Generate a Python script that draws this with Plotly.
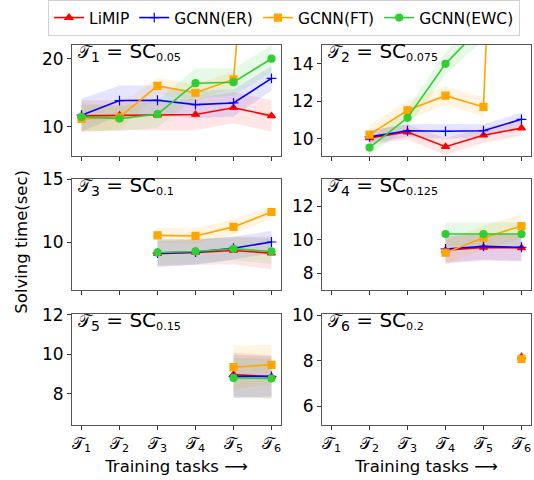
import plotly.graph_objects as go

# ---------------- data ----------------
TASK_X = [1, 2, 3, 4, 5, 6]
TICK_LABELS = ["𝒯<sub>1</sub>", "𝒯<sub>2</sub>", "𝒯<sub>3</sub>",
               "𝒯<sub>4</sub>", "𝒯<sub>5</sub>", "𝒯<sub>6</sub>"]
METHODS = ["LiMIP", "GCNN(ER)", "GCNN(FT)", "GCNN(EWC)"]
PANEL_TASKS = ["1", "2", "3", "4", "5", "6"]
PANEL_SC = ["0.05", "0.075", "0.1", "0.125", "0.15", "0.2"]

# panel 1 (T1..T6)
p1_x = [1, 2, 3, 4, 5, 6]
p1_limip = [11.6, 11.7, 11.7, 11.8, 12.8, 11.6]
p1_limip_sd = [2.3, 2.2, 2.2, 2.3, 2.3, 2.3]
p1_er = [11.7, 13.85, 13.9, 13.25, 13.5, 17.1]
p1_er_sd = [2.4, 2.2, 2.2, 2.0, 2.0, 1.8]
p1_ft = [11.15, 11.4, 16.0, 15.0, 16.95, 80.0]
p1_ft_sd = [2.0, 1.8, 1.2, 1.2, 1.2, None]
p1_ewc = [11.45, 11.2, 11.85, 16.4, 16.55, 20.0]
p1_ewc_sd = [2.0, 1.8, 2.0, 2.2, 2.0, 2.0]

# panel 2 (T2..T6)
p2_x = [2, 3, 4, 5, 6]
p2_limip = [10.05, 10.36, 9.58, 10.19, 10.57]
p2_limip_sd = [0.4, 0.4, 0.45, 0.4, 0.4]
p2_er = [10.1, 10.43, 10.4, 10.43, 11.04]
p2_er_sd = [0.35, 0.35, 0.4, 0.35, 0.35]
p2_ft = [10.22, 11.52, 12.3, 11.7, 60.0]
p2_ft_sd = [0.5, 0.5, 0.5, 0.5, None]
p2_ewc = [9.53, 11.12, 14.0, 16.1, 17.5]
p2_ewc_sd = [0.4, 0.5, 0.6, 0.8, 0.8]

# panel 3 (T3..T6)
p3_x = [3, 4, 5, 6]
p3_limip = [9.1, 9.2, 9.36, 9.15]
p3_limip_sd = [1.0, 1.0, 1.1, 1.3]
p3_er = [9.15, 9.23, 9.54, 10.03]
p3_er_sd = [1.1, 1.0, 0.9, 0.9]
p3_ft = [10.56, 10.51, 11.23, 12.41]
p3_ft_sd = [0.6, 0.6, 0.6, 0.5]
p3_ewc = [9.2, 9.28, 9.49, 9.28]
p3_ewc_sd = [1.0, 1.0, 0.9, 1.0]

# panel 4 (T4..T6)
p4_x = [4, 5, 6]
p4_limip = [9.38, 9.55, 9.52]
p4_limip_sd = [0.8, 0.8, 0.8]
p4_er = [9.46, 9.61, 9.56]
p4_er_sd = [0.8, 0.8, 0.8]
p4_ft = [9.24, 10.13, 10.82]
p4_ft_sd = [0.7, 0.7, 0.7]
p4_ewc = [10.35, 10.35, 10.35]
p4_ewc_sd = [0.7, 0.7, 0.7]

# panel 5 (T5..T6)
p5_x = [5, 6]
p5_limip = [8.98, 8.87]
p5_limip_sd = [1.1, 1.1]
p5_er = [8.89, 8.89]
p5_er_sd = [1.1, 1.0]
p5_ft = [9.35, 9.47]
p5_ft_sd = [1.1, 1.0]
p5_ewc = [8.81, 8.78]
p5_ewc_sd = [1.0, 1.0]

# panel 6 (T6)
p6_x = [6]
p6_limip = [8.17]
p6_limip_sd = [0.0]
p6_ft = [8.08]
p6_ft_sd = [0.0]

Y_RANGES = [[5.7, 22.0], [9.08, 15.0], [6.2, 15.0], [7.0, 13.6], [6.46, 12.05], [5.19, 10.07]]
Y_TICKS = [[10, 20], [10, 12, 14], [10, 15], [8, 10, 12], [8, 10, 12], [6, 8, 10]]

PANELS = [
    [(p1_x, p1_limip, p1_limip_sd), (p1_x, p1_er, p1_er_sd), (p1_x, p1_ft, p1_ft_sd), (p1_x, p1_ewc, p1_ewc_sd)],
    [(p2_x, p2_limip, p2_limip_sd), (p2_x, p2_er, p2_er_sd), (p2_x, p2_ft, p2_ft_sd), (p2_x, p2_ewc, p2_ewc_sd)],
    [(p3_x, p3_limip, p3_limip_sd), (p3_x, p3_er, p3_er_sd), (p3_x, p3_ft, p3_ft_sd), (p3_x, p3_ewc, p3_ewc_sd)],
    [(p4_x, p4_limip, p4_limip_sd), (p4_x, p4_er, p4_er_sd), (p4_x, p4_ft, p4_ft_sd), (p4_x, p4_ewc, p4_ewc_sd)],
    [(p5_x, p5_limip, p5_limip_sd), (p5_x, p5_er, p5_er_sd), (p5_x, p5_ft, p5_ft_sd), (p5_x, p5_ewc, p5_ewc_sd)],
    [(p6_x, p6_limip, p6_limip_sd), None, (p6_x, p6_ft, p6_ft_sd), None],
]

# ---------------- style ----------------
COLORS = ["#ff0000", "#0000ff", "#ffa500", "#32cd32"]
BANDS = ["rgba(255,0,0,0.10)", "rgba(0,0,255,0.10)", "rgba(255,165,0,0.12)", "rgba(50,205,50,0.12)"]
SYMBOLS = ["triangle-up", "cross-thin", "square", "circle"]
MSIZES = [7, 7, 7, 7]
FONT = "DejaVu Sans"
W, H = 534, 480

XD = [[72 / W, 281 / W], [322 / W, 531 / W]]
YD = [[1 - 147 / H, 1 - 33 / H], [1 - 285 / H, 1 - 171 / H], [1 - 423 / H, 1 - 309 / H]]

fig = go.Figure()

for pi, panel in enumerate(PANELS):
    ax = "" if pi == 0 else str(pi + 1)
    xref, yref = "x" + ax, "y" + ax
    for mi, item in enumerate(panel):
        if item is None:
            continue
        xs, ys, sds = item
        pts = [(x, y, s) for x, y, s in zip(xs, ys, sds) if s is not None]
        if len(pts) < 2:
            continue
        bx = [p[0] for p in pts] + [p[0] for p in pts[::-1]]
        by = [p[1] + p[2] for p in pts] + [p[1] - p[2] for p in pts[::-1]]
        fig.add_trace(go.Scatter(x=bx, y=by, fill="toself", fillcolor=BANDS[mi],
                                 line=dict(width=0), mode="lines", hoverinfo="skip",
                                 showlegend=False, xaxis=xref, yaxis=yref))
    for mi, item in enumerate(panel):
        if item is None:
            continue
        xs, ys, sds = item
        fig.add_trace(go.Scatter(
            x=xs, y=ys, mode="lines+markers", name=METHODS[mi],
            line=dict(color=COLORS[mi], width=1.6),
            marker=dict(symbol=SYMBOLS[mi], size=MSIZES[mi], color=COLORS[mi],
                        line=dict(color=COLORS[mi], width=1.2)),
            showlegend=(pi == 0), xaxis=xref, yaxis=yref, cliponaxis=True))

layout = dict(
    width=W, height=H, paper_bgcolor="white", plot_bgcolor="white",
    margin=dict(l=0, r=0, t=0, b=0),
    font=dict(family=FONT, size=16, color="black"),
    showlegend=True,
    legend=dict(orientation="h", x=48 / W, y=1.028, xanchor="left", yanchor="top",
                font=dict(size=15.5, family=FONT), bordercolor="#d0d0d0", borderwidth=1,
                bgcolor="white", itemwidth=30, tracegroupgap=0),
)
annotations = []
for pi in range(6):
    row, col = pi // 2, pi % 2
    key = "" if pi == 0 else str(pi + 1)
    bottom = row == 2
    layout["xaxis" + key] = dict(
        domain=XD[col], anchor="y" + key, range=[0.75, 6.25],
        tickvals=TASK_X, ticktext=TICK_LABELS, showticklabels=bottom,
        ticks="outside", ticklen=4, tickwidth=1, tickcolor="#333",
        showline=True, linecolor="#555", linewidth=1, mirror=True,
        showgrid=False, zeroline=False, tickfont=dict(size=16),
        title=dict(text="Training tasks ⟶" if bottom else "", font=dict(size=16.5), standoff=6),
    )
    layout["yaxis" + key] = dict(
        domain=YD[row], anchor="x" + key, range=Y_RANGES[pi], tickvals=Y_TICKS[pi],
        ticks="outside", ticklen=4, tickwidth=1, tickcolor="#333",
        showline=True, linecolor="#555", linewidth=1, mirror=True,
        showgrid=False, zeroline=False, tickfont=dict(size=17),
    )
    title = ("<span style='font-size:17px'>𝒯</span><sub>" + PANEL_TASKS[pi] + "</sub>"
             + " = SC<span style='font-size:16px'><sub>" + PANEL_SC[pi] + "</sub></span>")
    annotations.append(dict(text=title, xref="x" + key + " domain", yref="y" + key + " domain",
                            x=0.025, y=1.0, xanchor="left", yanchor="top", yshift=7, showarrow=False,
                            borderpad=0, font=dict(size=20, family=FONT)))
annotations.append(dict(text="Solving time(sec)", xref="paper", yref="paper", x=22 / W, y=1 - 235 / H,
                        xanchor="center", yanchor="middle", textangle=-90, showarrow=False,
                        font=dict(size=16.5, family=FONT)))
layout["annotations"] = annotations
fig.update_layout(**layout)

fig.write_html("out.html", config={"displayModeBar": False},
               post_script="document.body.style.margin='0px';")
